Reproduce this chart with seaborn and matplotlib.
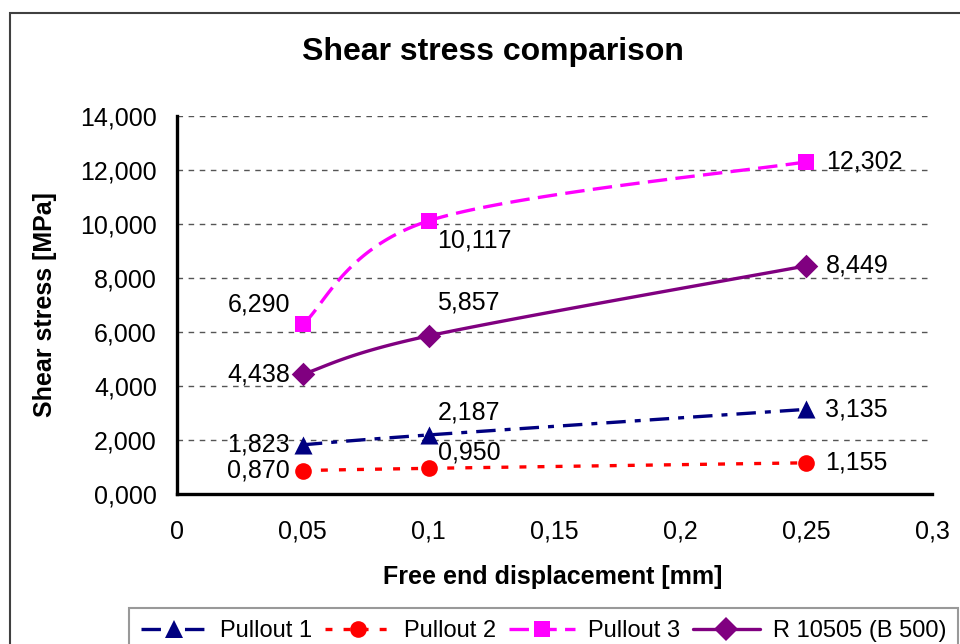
import numpy as np
import pandas as pd
import matplotlib
matplotlib.use("Agg")
import matplotlib.pyplot as plt
from matplotlib.lines import Line2D
from matplotlib.patches import Rectangle
import seaborn as sns

# ---- data -------------------------------------------------------------
displacement = [0.05, 0.10, 0.25]
pullout_1 = [1.823, 2.187, 3.135]
pullout_2 = [0.870, 0.950, 1.155]
pullout_3 = [6.290, 10.117, 12.302]
r_10505 = [4.438, 5.857, 8.449]
series_names = ["Pullout 1", "Pullout 2", "Pullout 3", "R 10505 (B 500)"]
x_ticks = [0, 0.05, 0.10, 0.15, 0.20, 0.25, 0.30]
y_ticks = [0, 2, 4, 6, 8, 10, 12, 14]

# ---- styling ----------------------------------------------------------
sns.set_theme(style="white")
plt.rcParams["font.family"] = ["Liberation Sans", "DejaVu Sans"]
plt.rcParams["lines.scale_dashes"] = False
for key in ("text.color", "axes.labelcolor", "xtick.color", "ytick.color"):
    plt.rcParams[key] = "black"

W, H = 960, 644
fig = plt.figure(figsize=(W / 100, H / 100), dpi=100)
ax = fig.add_axes([177 / W, 1 - 494 / H, (932 - 177) / W, (494 - 116) / H])

xmax, ymax = 0.3, 14.0
ax.set_xlim(0, xmax)
ax.set_ylim(0, ymax)

PX = 1 / 1.3889  # pixels -> points

styles = {
    "Pullout 1": dict(color="#000080", marker="^", ms=13,
                      dash=(0, (14, 6.5, 4.3, 6.5))),
    "Pullout 2": dict(color="#FF0000", marker="o", ms=12,
                      dash=(0, (5, 8))),
    "Pullout 3": dict(color="#FF00FF", marker="s", ms=11,
                      dash=(0, (14, 6))),
    "R 10505 (B 500)": dict(color="#800080", marker="D", ms=12,
                            dash="-"),
}

values = {
    "Pullout 1": pullout_1,
    "Pullout 2": pullout_2,
    "Pullout 3": pullout_3,
    "R 10505 (B 500)": r_10505,
}

# label offsets in pixels (dx, dy, ha) for each of the three points
label_place = {
    "Pullout 1": [(-13, 0, "right"), (9, 22, "left"), (19, 0, "left")],
    "Pullout 2": [(-13, 0, "right"), (9, 16, "left"), (19, 0, "left")],
    "Pullout 3": [(-13, 20, "right"), (8, -20, "left"), (20, 0, "left")],
    "R 10505 (B 500)": [(-13, 0, "right"), (8, 33, "left"), (20, 0, "left")],
}


def smooth(xs, ys, n=60):
    """Bezier smoothing through the points (Catmull-Rom style, tension 1/6),
    computed in screen-proportional units."""
    sx = (932 - 177) / xmax
    sy = (494 - 116) / ymax
    P = np.column_stack([np.asarray(xs) * sx, np.asarray(ys) * sy])
    out = []
    for i in range(len(P) - 1):
        p0 = P[i - 1] if i > 0 else P[i]
        p1, p2 = P[i], P[i + 1]
        p3 = P[i + 2] if i + 2 < len(P) else P[i + 1]
        c1 = p1 + (p2 - p0) / 6
        c2 = p2 - (p3 - p1) / 6
        t = np.linspace(0, 1, n)[:, None]
        seg = ((1 - t) ** 3) * p1 + 3 * ((1 - t) ** 2) * t * c1 \
            + 3 * (1 - t) * t ** 2 * c2 + t ** 3 * p2
        out.append(seg if i == 0 else seg[1:])
    out = np.vstack(out)
    return out[:, 0] / sx, out[:, 1] / sy


# grid
ax.yaxis.grid(True, color="#555555", linestyle=(0, (4, 4)), linewidth=1)
ax.xaxis.grid(False)
ax.set_axisbelow(True)

for name in series_names:
    st = styles[name]
    ys = values[name]
    cx, cy = smooth(displacement, ys)
    curve = pd.DataFrame({"x": cx, "y": cy})
    sns.lineplot(data=curve, x="x", y="y", ax=ax, sort=False, estimator=None,
                 color=st["color"], linewidth=2.4, zorder=3)
    ax.lines[-1].set_linestyle(st["dash"])
    pts = pd.DataFrame({"x": displacement, "y": ys})
    sns.scatterplot(data=pts, x="x", y="y", ax=ax, marker=st["marker"],
                    s=st["ms"] ** 2, color=st["color"], edgecolor=st["color"],
                    linewidth=0, zorder=4, clip_on=False)
    for (xv, yv), (dx, dy, ha) in zip(zip(displacement, ys), label_place[name]):
        ax.annotate(f"{yv:.3f}".replace(".", ","), (xv, yv),
                    xytext=(dx * PX, dy * PX), textcoords="offset points",
                    ha=ha, va="center", fontsize=18, color="black", zorder=5)

# axes
ax.set_xlabel("")
ax.set_ylabel("")
ax.set_xticks(x_ticks)
ax.set_yticks(y_ticks)
ax.set_xticklabels([f"{v:g}".replace(".", ",") for v in x_ticks])
ax.set_yticklabels([f"{v:.3f}".replace(".", ",") for v in y_ticks])
ax.tick_params(axis="both", labelsize=18, colors="black", direction="out",
               length=6.5, width=2.2)
ax.tick_params(axis="y", pad=8)
ax.tick_params(axis="x", pad=12)
for side in ("top", "right"):
    ax.spines[side].set_visible(False)
for side in ("left", "bottom"):
    ax.spines[side].set_color("black")
    ax.spines[side].set_linewidth(2.4)

# texts
fig.text(493 / W, 1 - 52 / H, "Shear stress comparison", ha="center",
         va="center", fontsize=23, fontweight="bold", color="black")
fig.text(553 / W, 1 - 577 / H, "Free end displacement [mm]", ha="center",
         va="center", fontsize=18, fontweight="bold", color="black")
fig.text(45 / W, 1 - 305 / H, "Shear stress [MPa]", ha="center",
         va="center", rotation=90, fontsize=18, fontweight="bold",
         color="black")

# legend
handles = [Line2D([], [], color=styles[n]["color"], linewidth=2.4,
                  linestyle=styles[n]["dash"], marker=styles[n]["marker"],
                  markersize=styles[n]["ms"], markeredgewidth=0)
           for n in series_names]
leg = fig.legend(handles, series_names, loc="upper left",
                 bbox_to_anchor=(129 / W, 1 - 608 / H), ncol=4, fontsize=17,
                 frameon=True, fancybox=False, handlelength=2.8,
                 handletextpad=0.55, columnspacing=0.55, borderpad=0.5,
                 borderaxespad=0, numpoints=1, labelcolor="black")
leg.get_frame().set_edgecolor("#808080")
leg.get_frame().set_linewidth(1.5)

# chart border
fig.patches.append(Rectangle((10 / W, -0.1), 1.2, 1.1 - 13 / H,
                             transform=fig.transFigure, fill=False,
                             edgecolor="#404040", linewidth=1.5))

fig.savefig("out.png", dpi=100)
